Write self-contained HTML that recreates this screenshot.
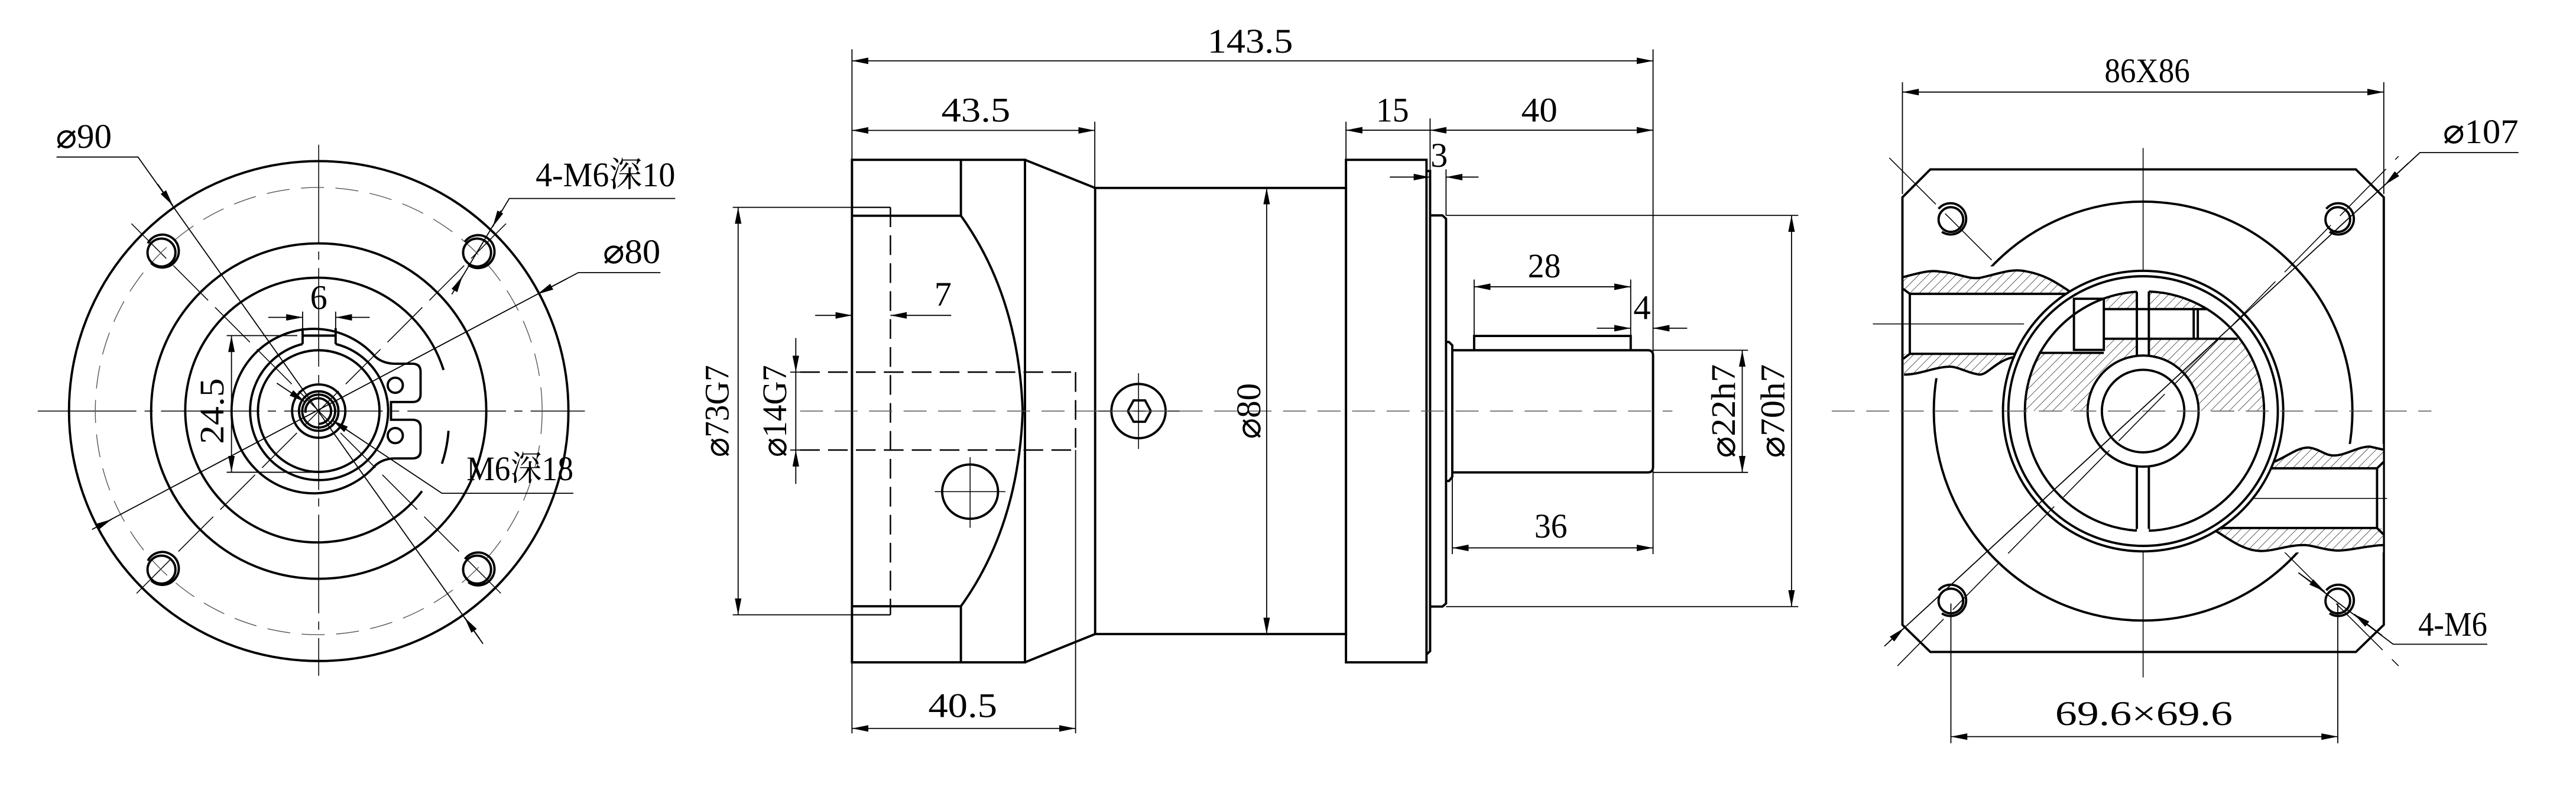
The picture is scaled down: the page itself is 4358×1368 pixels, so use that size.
<!DOCTYPE html>
<html><head><meta charset="utf-8"><style>
html,body{margin:0;padding:0;background:#fff;}
svg{display:block;}
text{font-family:"Liberation Serif","Noto Serif CJK SC","DejaVu Serif",serif;font-size:21px;fill:#000;}
.k{fill:none;stroke:#000;stroke-width:1.4;}
.t{fill:none;stroke:#000;stroke-width:0.55;}
.c{fill:none;stroke:#444;stroke-width:0.45;stroke-dasharray:22 5 3 5;}
.d{fill:none;stroke:#555;stroke-width:0.5;stroke-dasharray:14 7;}
.h{fill:none;stroke:#000;stroke-width:0.9;stroke-dasharray:12 5;}
.w{fill:#fff;stroke:#000;stroke-width:1.4;}
.dim{fill:none;stroke:#000;stroke-width:0.65;}
</style></head><body>
<svg width="4358" height="1368" viewBox="0 0 1568 492" preserveAspectRatio="none" xmlns="http://www.w3.org/2000/svg">
<defs>
<marker id="a" viewBox="0 0 10 4" refX="10" refY="2" markerWidth="10" markerHeight="4" markerUnits="userSpaceOnUse" orient="auto-start-reverse"><path d="M0,0 L10,2 L0,4 z" fill="#000"/></marker>
<pattern id="hp" width="4" height="4" patternUnits="userSpaceOnUse" patternTransform="rotate(45)"><line x1="0" y1="0" x2="0" y2="4" stroke="#000" stroke-width="0.45"/></pattern>
<clipPath id="ic"><circle cx="1304.5" cy="250" r="72.8"/></clipPath>
</defs>
<rect width="1568" height="492" fill="#fff"/>

<!-- ================= LEFT VIEW ================= -->
<g>
<line class="t" x1="23" y1="250" x2="356" y2="250" stroke-dasharray="60 5 5 5"/>
<line class="t" x1="194" y1="88" x2="194" y2="411" stroke-dasharray="60 5 5 5"/>
<line class="t" x1="80" y1="136" x2="308" y2="364" stroke-dasharray="30 6"/>
<line class="t" x1="308" y1="136" x2="80" y2="364" stroke-dasharray="30 6"/>
<circle class="k" cx="194" cy="250" r="152"/>
<circle class="d" cx="194" cy="250" r="136"/>
<circle class="k" cx="194" cy="250" r="102"/>
<path class="k" d="M256.9,298.7 A80.5,80.5 0 1 1 270,225"/>
<path class="k" d="M273,262 A80.5,80.5 0 0 1 269,282"/>
<g class="k">
<circle cx="98.3" cy="153.6" r="8.5"/><path d="M90,148 A10,10 0 1 1 92,160"/>
<circle cx="290.4" cy="153.6" r="8.5"/><path d="M283,147 A10,10 0 1 1 285,161"/>
<circle cx="98.3" cy="346.4" r="8.5"/><path d="M90,341 A10,10 0 1 1 92,353"/>
<circle cx="290.4" cy="346.4" r="8.5"/><path d="M283,340 A10,10 0 1 1 285,354"/>
</g>
<path class="k" d="M228.5,217 Q233,221 240,221.2 L251,221.2 Q256,221.2 256,226 L256,239.7 Q256,244.5 251,244.5 L238,244.5 L238,255.3 L251,255.3 Q256,255.3 256,260 L256,274 Q256,278.8 251,278.8 L240,278.8 Q233,279 228.5,283 A50,50 0 1 1 228.5,217 Z"/>
<circle class="k" cx="240.6" cy="234.3" r="4.6"/>
<circle class="k" cx="240.6" cy="264.9" r="4.6"/>
<path class="k" d="M204.3,209.2 A42,42 0 1 1 184.2,209.2"/>
<path class="k" d="M184.2,209.2 L184.2,199.6 M204.3,209.2 L204.3,199.6 M184.2,204.1 L204.3,204.1"/>
<circle class="k" cx="194" cy="250" r="37"/>
<circle class="k" cx="194" cy="250" r="16.2"/>
<circle class="k" cx="194" cy="250" r="12"/>
<circle class="k" cx="194" cy="250" r="10"/>
<path class="k" d="M186,251 A7.8,7.8 0 1 1 194,257.8"/>
<path class="dim" d="M34.4,95.5 L84,95.5 L294,391.5"/>
<line class="dim" x1="96" y1="112" x2="105.2" y2="125" marker-end="url(#a)"/>
<line class="dim" x1="292" y1="388.5" x2="282.8" y2="375.5" marker-end="url(#a)"/>
<text x="34" y="90" textLength="34" lengthAdjust="spacingAndGlyphs">⌀90</text>
<path class="dim" d="M411,120.7 L310,120.7 L275,179"/>
<line class="dim" x1="305" y1="128" x2="300" y2="137.8" marker-end="url(#a)"/>
<line class="dim" x1="277" y1="176" x2="281.5" y2="168" marker-end="url(#a)"/>
<text x="326" y="113.3" textLength="85" lengthAdjust="spacingAndGlyphs">4-M6深10</text>
<path class="dim" d="M402,165.8 L352,165.8 L56,322"/>
<line class="dim" x1="345" y1="169.5" x2="327" y2="179" marker-end="url(#a)"/>
<line class="dim" x1="59" y1="320.5" x2="68" y2="315.8" marker-end="url(#a)"/>
<text x="367" y="160" textLength="35" lengthAdjust="spacingAndGlyphs">⌀80</text>
<line class="dim" x1="163.3" y1="193" x2="184.2" y2="193" marker-end="url(#a)"/>
<line class="dim" x1="225" y1="193" x2="204.3" y2="193" marker-end="url(#a)"/>
<line class="dim" x1="184.2" y1="189.5" x2="184.2" y2="199.6"/>
<line class="dim" x1="204.3" y1="189.5" x2="204.3" y2="199.6"/>
<text x="194" y="188" text-anchor="middle">6</text>
<line class="dim" x1="140.9" y1="204.1" x2="140.9" y2="287.2" marker-start="url(#a)" marker-end="url(#a)"/>
<line class="dim" x1="138" y1="204.1" x2="181" y2="204.1"/>
<line class="dim" x1="138" y1="287.2" x2="191" y2="287.2"/>
<text transform="translate(136,250) rotate(-90)" text-anchor="middle" textLength="40" lengthAdjust="spacingAndGlyphs">24.5</text>
<path class="dim" d="M349,300 L269,300 L202.3,255.6"/>
<line class="dim" x1="214" y1="263.4" x2="202.3" y2="255.6" marker-end="url(#a)"/>
<line class="dim" x1="168.5" y1="233" x2="185.7" y2="244.5" marker-end="url(#a)"/>
<text x="284" y="292" textLength="65" lengthAdjust="spacingAndGlyphs">M6深18</text>
</g>

<!-- ================= MIDDLE VIEW ================= -->
<g>
<rect class="k" x="518.6" y="97.2" width="105.3" height="305.6"/>
<path class="k" d="M518.6,131.2 L584.9,131.2 Q620,180 622.5,250 Q620,320 584.9,368.7 L518.6,368.7 M584.9,97.2 L584.9,131.2 M584.9,368.7 L584.9,402.8"/>
<path class="k" d="M623.9,97.2 L666.6,114.3 M623.9,402.8 L666.6,385.6"/>
<path class="t" style="stroke-width:0.8" d="M518.6,126.1 L542,126.1 M518.6,373.9 L542,373.9"/>
<line class="h" x1="542" y1="126.1" x2="542" y2="373.9"/>
<path class="h" d="M487,226.3 L654.7,226.3 M487,273.7 L654.7,273.7"/>
<line class="h" x1="654.7" y1="226.3" x2="654.7" y2="273.7"/>
<ellipse class="k" cx="590.5" cy="299" rx="17" ry="16.5"/>
<path class="t" d="M569,299 L612,299 M590.5,278 L590.5,321"/>
<rect class="k" x="666.6" y="114.3" width="152.7" height="271.3"/>
<circle class="k" cx="693" cy="250" r="16.5"/>
<path class="k" d="M686.5,250 L690,243.5 L697,243.5 L700.5,250 L697,256.5 L690,256.5 Z"/>
<path class="t" d="M668,250 L718,250 M693,227 L693,273"/>
<rect class="k" x="819.3" y="97.2" width="49" height="305.6"/>
<path class="k" d="M868.3,104 L870.5,104 L870.5,396 L868.3,398"/>
<path class="k" d="M870.5,131 L878,131 L880.2,133 L880.2,367 L878,368.9 L870.5,368.9"/>
<path class="k" d="M880.2,208 L882,208 L884,210 L884,290 L882,292.5 L880.2,292.5"/>
<path class="k" d="M884,213 L1003,213 Q1006.2,213 1006.2,216 L1006.2,284 Q1006.2,287.3 1003,287.3 L884,287.3"/>
<path class="k" d="M897.3,213 L897.3,204.3 L992.6,204.3 L992.6,213"/>
<line class="d" x1="487" y1="250" x2="1018" y2="250"/>
<line class="dim" x1="518.6" y1="30" x2="518.6" y2="446"/>
<line class="dim" x1="1006.2" y1="30" x2="1006.2" y2="337"/>
<line class="dim" x1="518.6" y1="37" x2="1006.2" y2="37" marker-start="url(#a)" marker-end="url(#a)"/>
<text x="761" y="32" text-anchor="middle" textLength="52" lengthAdjust="spacingAndGlyphs">143.5</text>
<line class="dim" x1="666.4" y1="74" x2="666.4" y2="114"/>
<line class="dim" x1="518.6" y1="79.3" x2="666.4" y2="79.3" marker-start="url(#a)" marker-end="url(#a)"/>
<text x="594" y="74" text-anchor="middle" textLength="42" lengthAdjust="spacingAndGlyphs">43.5</text>
<line class="dim" x1="819.3" y1="74" x2="819.3" y2="97"/>
<line class="dim" x1="870.5" y1="72" x2="870.5" y2="104"/>
<line class="dim" x1="819.3" y1="79.2" x2="870.5" y2="79.2" marker-start="url(#a)"/>
<line class="dim" x1="870.5" y1="79.2" x2="1006.2" y2="79.2" marker-start="url(#a)" marker-end="url(#a)"/>
<text x="847.6" y="74" text-anchor="middle" textLength="20" lengthAdjust="spacingAndGlyphs">15</text>
<text x="937" y="74" text-anchor="middle" textLength="22" lengthAdjust="spacingAndGlyphs">40</text>
<line class="dim" x1="880.2" y1="103" x2="880.2" y2="131"/>
<line class="dim" x1="846" y1="107.7" x2="870.5" y2="107.7" marker-end="url(#a)"/>
<line class="dim" x1="900" y1="107.7" x2="880.2" y2="107.7" marker-end="url(#a)"/>
<text x="876" y="101.5" text-anchor="middle">3</text>
<line class="dim" x1="880.2" y1="131" x2="1094.6" y2="131"/>
<line class="dim" x1="880.2" y1="368.9" x2="1094.6" y2="368.9"/>
<line class="dim" x1="1090.5" y1="131" x2="1090.5" y2="368.9" marker-start="url(#a)" marker-end="url(#a)"/>
<line class="dim" x1="1006.2" y1="213" x2="1064" y2="213"/>
<line class="dim" x1="1006.2" y1="287.3" x2="1064" y2="287.3"/>
<line class="dim" x1="1060.5" y1="213" x2="1060.5" y2="287.3" marker-start="url(#a)" marker-end="url(#a)"/>
<text transform="translate(1056,250) rotate(-90)" text-anchor="middle" textLength="57" lengthAdjust="spacingAndGlyphs">⌀22h7</text>
<text transform="translate(1086,250) rotate(-90)" text-anchor="middle" textLength="57" lengthAdjust="spacingAndGlyphs">⌀70h7</text>
<line class="dim" x1="897.3" y1="170" x2="897.3" y2="204.3"/>
<line class="dim" x1="992.6" y1="170" x2="992.6" y2="204.3"/>
<line class="dim" x1="897.3" y1="174.4" x2="992.6" y2="174.4" marker-start="url(#a)" marker-end="url(#a)"/>
<text x="940" y="168.6" text-anchor="middle" textLength="20" lengthAdjust="spacingAndGlyphs">28</text>
<line class="dim" x1="972" y1="199.6" x2="992.6" y2="199.6" marker-end="url(#a)"/>
<line class="dim" x1="1027" y1="199.6" x2="1006.2" y2="199.6" marker-end="url(#a)"/>
<text x="999.5" y="194" text-anchor="middle">4</text>
<line class="dim" x1="884" y1="290" x2="884" y2="337"/>
<line class="dim" x1="884" y1="333.2" x2="1006.2" y2="333.2" marker-start="url(#a)" marker-end="url(#a)"/>
<text x="944" y="327" text-anchor="middle" textLength="20" lengthAdjust="spacingAndGlyphs">36</text>
<line class="dim" x1="771" y1="114.3" x2="771" y2="385.6" marker-start="url(#a)" marker-end="url(#a)"/>
<text transform="translate(767,250) rotate(-90)" text-anchor="middle" textLength="34" lengthAdjust="spacingAndGlyphs">⌀80</text>
<line class="dim" x1="446" y1="126.1" x2="542" y2="126.1"/>
<line class="dim" x1="446" y1="373.9" x2="542" y2="373.9"/>
<line class="dim" x1="449.3" y1="126.1" x2="449.3" y2="373.9" marker-start="url(#a)" marker-end="url(#a)"/>
<text transform="translate(443.5,250) rotate(-90)" text-anchor="middle" textLength="56" lengthAdjust="spacingAndGlyphs">⌀73G7</text>
<line class="dim" x1="481" y1="226.3" x2="487" y2="226.3"/>
<line class="dim" x1="481" y1="273.7" x2="487" y2="273.7"/>
<line class="dim" x1="484.4" y1="205.6" x2="484.4" y2="226.3" marker-end="url(#a)"/>
<line class="dim" x1="484.4" y1="294.3" x2="484.4" y2="273.7" marker-end="url(#a)"/>
<line class="dim" x1="484.4" y1="226.3" x2="484.4" y2="273.7"/>
<text transform="translate(478.5,250) rotate(-90)" text-anchor="middle" textLength="56" lengthAdjust="spacingAndGlyphs">⌀14G7</text>
<line class="dim" x1="496.2" y1="191.8" x2="518.6" y2="191.8" marker-end="url(#a)"/>
<line class="dim" x1="579" y1="191.8" x2="542" y2="191.8" marker-end="url(#a)"/>
<text x="574" y="186" text-anchor="middle">7</text>
<line class="dim" x1="654.7" y1="273.7" x2="654.7" y2="446"/>
<line class="dim" x1="518.6" y1="443" x2="654.7" y2="443" marker-start="url(#a)" marker-end="url(#a)"/>
<text x="586" y="436" text-anchor="middle" textLength="42" lengthAdjust="spacingAndGlyphs">40.5</text>
</g>

<!-- ================= RIGHT VIEW ================= -->
<g>
<path class="k" d="M1175,103 L1434,103 L1451,120 L1451,380 L1434,396.5 L1175,396.5 L1158,380 L1158,120 Z"/>
<line class="t" x1="1150" y1="96" x2="1460" y2="405" stroke-dasharray="40 8"/>
<line class="t" x1="1304.5" y1="90" x2="1304.5" y2="412"/>
<circle class="k" cx="1304.5" cy="250" r="127.4"/>
<g class="k">
<circle cx="1187.5" cy="133.5" r="7.5"/><path d="M1180,127 A9.5,9.5 0 1 1 1182,141"/>
<circle cx="1423" cy="133.5" r="7.5"/><path d="M1416,127 A9.5,9.5 0 1 1 1418,141"/>
<circle cx="1187.5" cy="365.5" r="7.5"/><path d="M1180,359 A9.5,9.5 0 1 1 1182,373"/>
<circle cx="1423" cy="365.5" r="7.5"/><path d="M1416,359 A9.5,9.5 0 1 1 1418,373"/>
</g>
<rect x="1158.8" y="162" width="95" height="68" fill="#fff"/>
<path d="M1158.5,168.5 C1168,166 1175,164 1181,165.2 C1192,166 1198,170 1205,169 C1215,167 1224,163 1232.6,164.9 C1245,167 1252,172 1262,178.7 L1158.5,178.7 Z" fill="url(#hp)" stroke="none"/>
<path d="M1158.5,215.2 L1240,215.2 C1236,218 1232,218 1226.6,217 C1215,219 1210,228 1205,227.8 C1198,227 1192,223 1187,223 C1178,223 1168,228 1159,227.8 Z" fill="url(#hp)" stroke="none"/>
<path class="k" d="M1158.5,168.5 C1168,166 1175,164 1181,165.2 C1192,166 1198,170 1205,169 C1215,167 1224,163 1232.6,164.9 C1245,167 1252,172 1262,178.7"/>
<path class="k" d="M1159,227.8 C1168,228 1178,223 1187,223 C1192,223 1198,227 1205,227.8 C1210,228 1215,219 1226.6,217"/>
<path class="k" d="M1158.5,175.7 L1162.5,178.7 L1262,178.7 M1158.5,218.2 L1162.5,215.2 L1240,215.2 M1162.5,178.7 L1162.5,215.2"/>
<rect x="1348" y="270" width="102.5" height="66" fill="#fff"/>
<path d="M1370,284.8 C1374,282 1378,281 1383.3,281.2 C1392,278 1398,272 1405.3,272.2 C1412,273 1415,277 1420.5,277 C1428,277 1435,271.6 1442.5,271.6 L1450.5,273.4 L1450.5,284.8 Z" fill="url(#hp)" stroke="none"/>
<path d="M1349,321.1 L1450.5,321.1 L1450.5,331.5 C1440,332 1430,335 1421.9,334.8 C1412,334 1408,331.5 1402.6,331.5 C1392,331.5 1385,335 1376.4,335.1 C1365,335 1356,327 1349,323.1 Z" fill="url(#hp)" stroke="none"/>
<path class="k" d="M1370,284.8 C1374,282 1378,281 1383.3,281.2 C1392,278 1398,272 1405.3,272.2 C1412,273 1415,277 1420.5,277 C1428,277 1435,271.6 1442.5,271.6 L1450.5,273.4"/>
<path class="k" d="M1349,323.1 C1356,327 1365,335 1376.4,335.1 C1385,335 1392,331.5 1402.6,331.5 C1408,331.5 1412,334 1421.9,334.8 C1430,335 1440,332 1450.5,331.5"/>
<path class="k" d="M1350,284.8 L1446.9,284.8 L1450.8,281 M1349,321.1 L1446.9,321.1 L1450.8,325 M1446.9,284.8 L1446.9,321.1"/>
<line class="t" x1="1350" y1="303.1" x2="1453" y2="303.1"/>
<circle cx="1304.5" cy="250" r="85.3" fill="#fff" stroke="#000" stroke-width="1.4"/>
<circle class="k" cx="1304.5" cy="250" r="82"/>
<g clip-path="url(#ic)">
<rect x="1231" y="176" width="148" height="74" fill="url(#hp)"/>
<rect x="1231" y="176" width="51" height="38.6" fill="#fff"/>
<rect x="1262" y="188" width="100" height="18" fill="#fff"/>
<rect x="1300.7" y="176" width="7.3" height="40" fill="#fff"/>
</g>
<path class="k" d="M1241,214.6 L1280.6,214.6 M1280.6,188 L1344,188 M1280.6,206 L1362,206 M1335.3,188 L1335.3,206 M1337.8,188 L1337.8,206"/>
<rect class="k" x="1262.4" y="181.7" width="18.2" height="31.1" fill="#fff"/>
<path class="k" d="M1300.7,177.4 A72.8,72.8 0 1 0 1308,177.3"/>
<circle cx="1304.5" cy="250" r="33.8" fill="#fff" stroke="#000" stroke-width="1.4"/>
<circle class="k" cx="1304.5" cy="250" r="25.1"/>
<path class="k" d="M1300.7,177.4 L1300.7,216.4 M1308,177.3 L1308,216.4 M1300.7,283.6 L1300.7,322.7 M1308,283.6 L1308,322.7 M1300.7,322.7 L1308,322.7" />
<line x1="1300.7" y1="322.6" x2="1308" y2="322.6" stroke="#fff" stroke-width="2"/>
<line class="d" x1="1115" y1="250" x2="1480" y2="250"/>
<line class="t" x1="1140" y1="197" x2="1232" y2="197"/>
<line class="t" x1="1155" y1="405" x2="1460" y2="95" stroke-dasharray="40 8"/>
<line class="dim" x1="1158" y1="50" x2="1158" y2="118"/>
<line class="dim" x1="1451" y1="50" x2="1451" y2="118"/>
<line class="dim" x1="1158" y1="56" x2="1451" y2="56" marker-start="url(#a)" marker-end="url(#a)"/>
<text x="1307" y="50" text-anchor="middle" textLength="52" lengthAdjust="spacingAndGlyphs">86X86</text>
<path class="dim" d="M1533,92.8 L1473,92.8 L1147,393"/>
<line class="dim" x1="1466" y1="99.2" x2="1451.7" y2="112.4" marker-end="url(#a)"/>
<line class="dim" x1="1150" y1="390.2" x2="1159" y2="381.9" marker-end="url(#a)"/>
<text x="1487" y="87" textLength="46" lengthAdjust="spacingAndGlyphs">⌀107</text>
<path class="dim" d="M1514,391.8 L1456.7,391.8 L1399,348.3"/>
<line class="dim" x1="1399" y1="348.3" x2="1415" y2="359.7" marker-end="url(#a)"/>
<line class="dim" x1="1450" y1="386.5" x2="1433" y2="373.5" marker-end="url(#a)"/>
<text x="1472" y="386.7" textLength="42" lengthAdjust="spacingAndGlyphs">4-M6</text>
<line class="dim" x1="1187.5" y1="367" x2="1187.5" y2="452"/>
<line class="dim" x1="1423" y1="367" x2="1423" y2="452"/>
<line class="dim" x1="1187.5" y1="448" x2="1423" y2="448" marker-start="url(#a)" marker-end="url(#a)"/>
<text x="1305" y="441" text-anchor="middle" textLength="108" lengthAdjust="spacingAndGlyphs">69.6×69.6</text>
</g>
</svg>
</body></html>
